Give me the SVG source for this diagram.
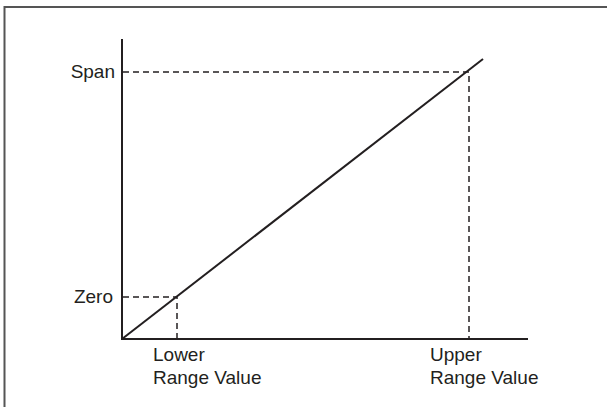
<svg xmlns="http://www.w3.org/2000/svg" width="607" height="407" viewBox="0 0 607 407">
<style>
text{font-family:"Liberation Sans",Arial,sans-serif;font-size:19px;fill:#231f20}
.ax{stroke:#231f20;stroke-width:2;fill:none}
.d{stroke:#231f20;stroke-width:1.5;stroke-dasharray:6 4;fill:none}
</style>
<rect width="607" height="407" fill="#fff"/>
<g id="frame"><path d="M4.5,407 V7 H607" stroke="#555" stroke-width="2" fill="none"/></g>
<g id="connectors">
<path class="ax" d="M122,39 V339 H528"/>
<path class="ax" d="M122,339 L483,59" stroke-width="2.5"/>
<path class="d" d="M123,72 H469 V338"/>
<path class="d" d="M123,297 H177 V338"/>
</g>
<g id="span"><text x="115" y="78" text-anchor="end">Span</text></g>
<g id="zero"><text x="113" y="303" text-anchor="end">Zero</text></g>
<g id="lower"><text x="153" y="361">Lower</text><text x="153" y="384">Range Value</text></g>
<g id="upper"><text x="430" y="361">Upper</text><text x="430" y="384">Range Value</text></g>
</svg>
